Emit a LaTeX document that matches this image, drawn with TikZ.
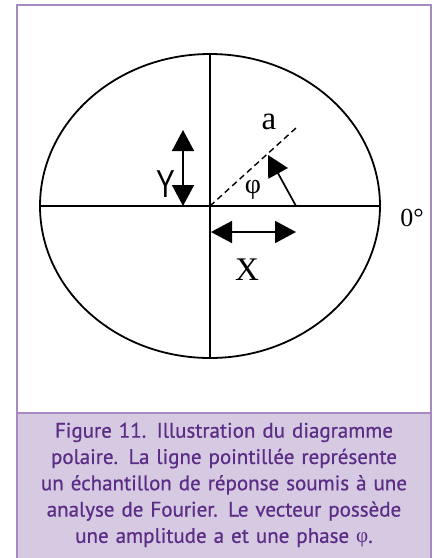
\documentclass[tikz,border=0pt]{standalone}
\usepackage{fontspec}
\setmainfont{Liberation Serif}
\newfontfamily\capfont{PT Sans}[RawFeature={embolden=0.7}]
\newfontfamily\labfont{Liberation Sans}
\usetikzlibrary{arrows.meta,positioning}
\definecolor{cadre}{HTML}{A68AC4}
\definecolor{fondleg}{HTML}{D6C9E2}
\definecolor{texteleg}{HTML}{5C2D86}

\begin{document}
\begin{tikzpicture}[x=1pt,y=-1pt,>={Triangle[length=21pt,width=22pt]},
  trait/.style={line width=1.8pt},
  fleche/.style={<->,line width=1.7pt},
  lab/.style={inner sep=0pt,font=\fontsize{33}{33}\selectfont}]
\useasboundingbox (0,0) rectangle (438,558);
\fill[white] (0,0) rectangle (438,558);
% cadre et legende
\fill[fondleg] (17,413) rectangle (431,560);
\draw[cadre,line width=2.2pt] (17,560)--(17,5)--(431,5)--(431,560);
\draw[cadre,line width=2pt] (17,413)--(431,413);
\node[text=texteleg,align=center,text width=410pt,inner sep=0pt,
  font=\capfont\fontsize{21}{26.3}\selectfont] (legende) at (224,485)
 {Figure 11. Illustration du diagramme\\
 polaire. La ligne pointillée représente\\
 un échantillon de réponse soumis à une\\
 analyse de Fourier. Le vecteur possède\\
 une amplitude a et une phase {\rmfamily φ}.};
% diagramme polaire
\coordinate (O) at (210,206);
\draw[trait] (O) ellipse [x radius=170,y radius=152];
\coordinate (haut) at (210,54);
\coordinate (bas) at (210,358);
\coordinate (gauche) at (40,206);
\coordinate (droite) at (380,206);
\draw[trait] (haut)--(bas);
\draw[trait] (gauche)--(droite);
\coordinate (a) at (296,128);
\draw[line width=1.4pt,dash pattern=on 6pt off 4pt] (O)--(a);
\node[lab] (la) at (269,122) {a};
\node[lab,font=\fontsize{28}{28}\selectfont] (phi) at (253,190) {φ};
\coordinate (pied) at (296,206);
\coordinate (pointe) at (268,155);
\draw[line width=1.7pt,-{Triangle[length=21pt,width=22pt]}] (pied)--(pointe);
% composantes
\coordinate (y1) at (183,130);
\coordinate (y2) at (183,206);
\draw[fleche] (y1)--(y2);
\node[inner sep=0pt,font=\labfont\fontsize{39}{39}\selectfont] (lY) at (166,184)
 {\scalebox{0.72}[1]{Y}};
\coordinate (x1) at (211,232);
\coordinate (x2) at (296,232);
\draw[fleche] (x1)--(x2);
\node[lab] (lX) at (247,270) {X};
\node[inner sep=0pt,font=\fontsize{26}{26}\selectfont] (zero) at (412,218) {0°};
\end{tikzpicture}
\end{document}
